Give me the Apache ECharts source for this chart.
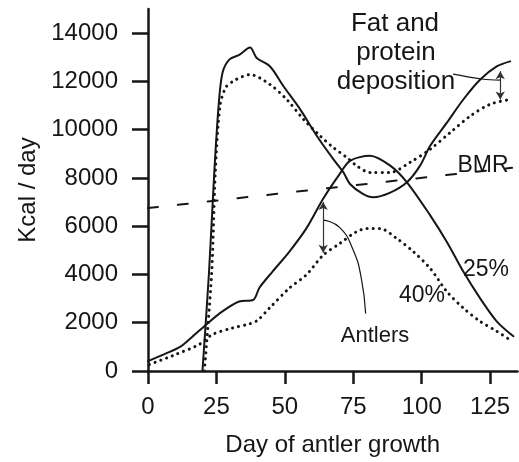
<!DOCTYPE html>
<html>
<head>
<meta charset="utf-8">
<script src="https://cdn.jsdelivr.net/npm/echarts@6/dist/echarts.min.js"></script>
<style>
  html, body { margin: 0; padding: 0; background: #fff; }
  #chart { width: 519px; height: 462px; }
</style>
</head>
<body>
<div id="chart"></div>
<script>
// ---- data ----
var xTicks = [0, 25, 50, 75, 100, 125];
var yTicks = [0, 2000, 4000, 6000, 8000, 10000, 12000, 14000];

// Fat and protein deposition, 25% (solid)
var fat25 = [[19.9,0],[22.3,4100],[24.2,8200],[25.8,11000],[27.2,12350],[29.7,12900],[33.3,13100],[37.3,13400],[39.7,12970],[44.6,12620],[49.5,11800],[55.6,10840],[61.7,9740],[67.7,8780],[71.4,8230],[73.8,7750],[78.5,7340],[82.3,7200],[88.3,7380],[94.6,7820],[99.4,8510],[103.1,9330],[109.2,10290],[115.2,11250],[121.3,12070],[127.4,12620],[132.3,12830]];
// Fat and protein deposition, 40% (dotted)
var fat40 = [[20.6,0],[23.3,4120],[24.6,8230],[26.3,10980],[28.4,11750],[31,12000],[34.5,12200],[37.3,12280],[44.6,11870],[50.7,11250],[56.8,10430],[62.9,9740],[67.7,9260],[72.6,8850],[76.5,8480],[81.1,8230],[88.5,8230],[95.8,8650],[103.1,9190],[110.4,9880],[117.7,10560],[124.9,11050],[132.3,11250]];
// Antlers, 25% (solid)
var ant25 = [[0,410],[6,700],[11.7,1000],[16,1400],[21.2,1920],[27.2,2470],[33.3,2880],[38.5,2950],[40.7,3450],[45.5,4120],[51.6,4940],[57.8,5900],[64,7140],[70,8160],[73.8,8710],[81.1,8920],[88.5,8510],[94.6,7820],[103.1,6450],[109.2,5350],[115.2,4120],[121.3,3020],[127.4,2060],[133.5,1440]];
// Antlers, 40% (dotted)
var ant40 = [[0.5,270],[10,680],[18.7,1100],[23.5,1510],[30.8,1780],[37,1950],[40,2100],[44.3,2600],[51.6,3430],[57.8,3980],[64,4800],[70,5280],[76,5760],[80,5900],[84.8,5900],[90.9,5490],[97,4940],[103.1,4250],[109.2,3290],[115.2,2610],[121.3,2060],[127.4,1650],[132.9,1240]];
// Basal metabolic rate (dashed)
var bmr = [[0,6750],[133,8420]];

// annotation pointers (data coordinates)
var antlerArrow = [[64,7000],[64,4900]];
var antlerPointer = [[64.2,6250],[70,5950],[75,5000],[78,3800],[79.5,2400]];
var fatArrow = [[128.7,12420],[128.7,11250]];
var fatPointer = [[111.6,12300],[122,12100],[128.7,12050]];

var FONT = 'Liberation Sans, Arial, Helvetica, sans-serif';
var INK = '#161616';

var chart = echarts.init(document.getElementById('chart'), null, {renderer: 'canvas'});

function lineSeries(data, type, width, smooth) {
  return {
    type: 'line', data: data, showSymbol: false, symbol: 'none',
    smooth: smooth,
    silent: true, z: 3,
    lineStyle: {color: INK, width: width, type: type, cap: 'round'}
  };
}

function arrowLine(pts) {
  return {
    type: 'line', data: [], symbol: 'none', silent: true,
    markLine: {
      silent: true, symbol: ['arrow', 'arrow'], symbolSize: [7, 8],
      label: {show: false},
      lineStyle: {color: '#333', width: 1.2, type: 'solid'},
      data: [[{coord: pts[0]}, {coord: pts[1]}]]
    }
  };
}

function plain(v) { return String(v); }

var option = {
  animation: false,
  backgroundColor: '#fff',
  grid: {left: 148, right: 1.5, top: 9, bottom: 88.7, containLabel: false},
  xAxis: {
    type: 'value', min: 0, max: 135, interval: 25,
    name: 'Day of antler growth', nameLocation: 'middle', nameGap: 62,
    nameTextStyle: {fontFamily: FONT, fontSize: 24, color: INK},
    axisLine: {show: true, onZero: false, lineStyle: {color: INK, width: 2.5}},
    axisTick: {show: true, inside: false, length: 13, customValues: xTicks, lineStyle: {color: INK, width: 2.5}},
    axisLabel: {show: true, margin: 24, fontFamily: FONT, fontSize: 24, color: INK, customValues: xTicks, formatter: plain},
    splitLine: {show: false}
  },
  yAxis: {
    type: 'value', min: 0, max: 15000, interval: 2000,
    name: 'Kcal / day', nameLocation: 'middle', nameGap: 107, nameRotate: 90,
    nameTextStyle: {fontFamily: FONT, fontSize: 24, color: INK},
    axisLine: {show: true, onZero: false, lineStyle: {color: INK, width: 2.5}},
    axisTick: {show: true, inside: false, length: 16, customValues: yTicks, lineStyle: {color: INK, width: 2.5}},
    axisLabel: {show: true, margin: 30, fontFamily: FONT, fontSize: 24, color: INK, customValues: yTicks, formatter: plain},
    splitLine: {show: false}
  },
  series: [
    lineSeries(bmr, [10, 20], 2, false),
    lineSeries(fat25, 'solid', 2, 0.3),
    lineSeries(fat40, [0.1, 6], 3, 0.3),
    lineSeries(ant25, 'solid', 2, 0.3),
    lineSeries(ant40, [0.1, 6], 3, 0.3),
    lineSeries(antlerPointer, 'solid', 1.2, 0.5),
    lineSeries(fatPointer, 'solid', 1.2, 0.4),
    arrowLine(antlerArrow),
    arrowLine(fatArrow)
  ],
  graphic: [
    {type: 'text', x: 395, y: 24, silent: true, style: {text: 'Fat and', fontFamily: FONT, fontSize: 26, fill: INK, align: 'center', verticalAlign: 'middle'}},
    {type: 'text', x: 396, y: 53, silent: true, style: {text: 'protein', fontFamily: FONT, fontSize: 26, fill: INK, align: 'center', verticalAlign: 'middle'}},
    {type: 'text', x: 396, y: 82, silent: true, style: {text: 'deposition', fontFamily: FONT, fontSize: 26, fill: INK, align: 'center', verticalAlign: 'middle'}},
    {type: 'text', x: 483, y: 166, silent: true, style: {text: 'BMR', fontFamily: FONT, fontSize: 23, fill: INK, align: 'center', verticalAlign: 'middle'}},
    {type: 'text', x: 486, y: 270, silent: true, style: {text: '25%', fontFamily: FONT, fontSize: 23, fill: INK, align: 'center', verticalAlign: 'middle'}},
    {type: 'text', x: 422, y: 296, silent: true, style: {text: '40%', fontFamily: FONT, fontSize: 23, fill: INK, align: 'center', verticalAlign: 'middle'}},
    {type: 'text', x: 375, y: 336, silent: true, style: {text: 'Antlers', fontFamily: FONT, fontSize: 22, fill: INK, align: 'center', verticalAlign: 'middle'}}
  ]
};
chart.setOption(option);
</script>
</body>
</html>
